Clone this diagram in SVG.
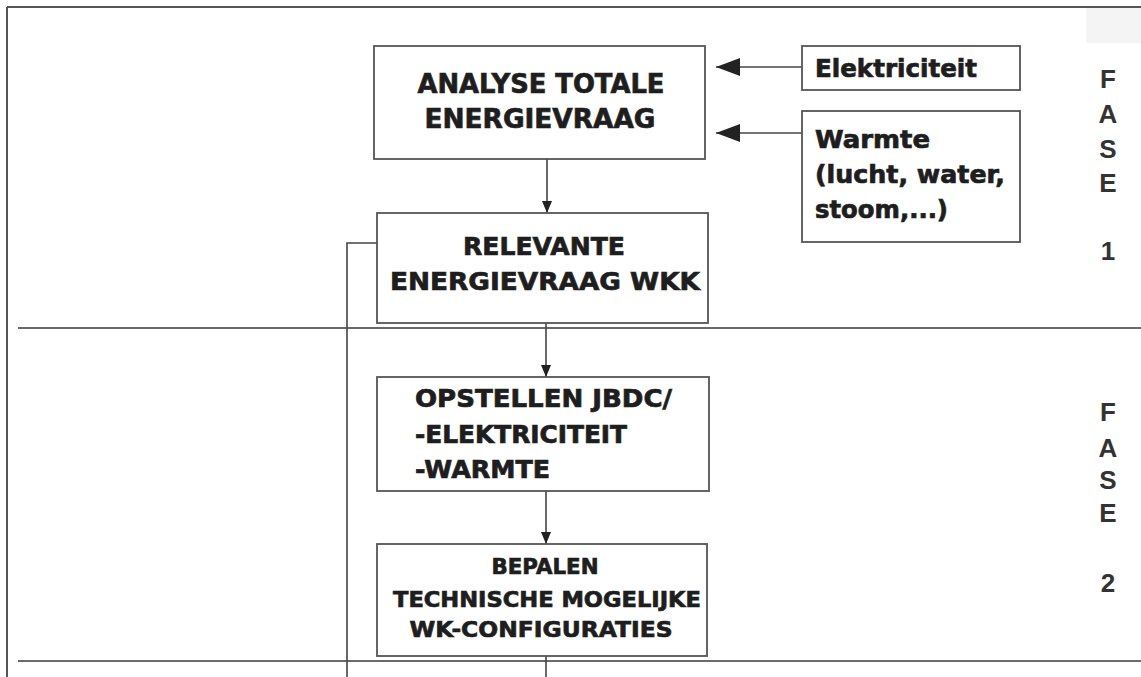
<svg xmlns="http://www.w3.org/2000/svg" width="1141" height="677" viewBox="0 0 1141 677">
<style>
.box{fill:#fff;stroke:#555;stroke-width:1.8}
.ln{stroke:#444;stroke-width:1.6;fill:none}
.sep{stroke:#6a6a6a;stroke-width:2.2;fill:none}
.t{font-family:"DejaVu Sans","Liberation Sans",sans-serif;font-weight:bold;fill:#1e1e1e;stroke:#1e1e1e;stroke-width:0.7}
.f{font-family:"Liberation Sans",Arial,sans-serif;font-weight:bold;fill:#333;font-size:26px;text-anchor:middle}
</style>
<defs>
<marker id="ad" markerWidth="12" markerHeight="10" refX="12" refY="5" orient="auto" markerUnits="userSpaceOnUse"><path d="M0,0 L12,5 L0,10 Z" fill="#222"/></marker>
<marker id="al" markerWidth="24" markerHeight="18" refX="24" refY="9" orient="auto" markerUnits="userSpaceOnUse"><path d="M0,0 L24,9 L0,18 Z" fill="#222"/></marker>
</defs>
<rect width="1141" height="677" fill="#fff"/>
<rect x="1086" y="8" width="55" height="35" fill="#f4f4f4"/>
<g id="frame">
<line x1="7" y1="7" x2="1141" y2="7" stroke="#555" stroke-width="2"/>
<line x1="7" y1="7" x2="7" y2="677" stroke="#555" stroke-width="2"/>
<line class="sep" x1="18" y1="328" x2="1141" y2="328"/>
<line class="sep" x1="18" y1="661" x2="1141" y2="661"/>
</g>
<g id="connectors">
<line class="ln" x1="547" y1="159" x2="547" y2="213" marker-end="url(#ad)"/>
<line class="ln" x1="546" y1="323" x2="546" y2="377" marker-end="url(#ad)"/>
<line class="ln" x1="546" y1="491" x2="546" y2="544" marker-end="url(#ad)"/>
<line class="ln" x1="546" y1="656" x2="546" y2="677"/>
<line class="ln" x1="802" y1="67" x2="716" y2="67" marker-end="url(#al)"/>
<line class="ln" x1="802" y1="133" x2="716" y2="133" marker-end="url(#al)"/>
<polyline class="ln" points="377,243 347,243 347,677"/>
</g>
<g id="analyse">
<rect class="box" x="374" y="46" width="331" height="113"/>
<text class="t" font-size="27" x="541" y="93" text-anchor="middle" textLength="247" lengthAdjust="spacingAndGlyphs">ANALYSE TOTALE</text>
<text class="t" font-size="27" x="540" y="128" text-anchor="middle" textLength="231" lengthAdjust="spacingAndGlyphs">ENERGIEVRAAG</text>
</g>
<g id="relevante">
<rect class="box" x="377" y="213" width="331" height="110"/>
<text class="t" font-size="25" x="544" y="255" text-anchor="middle" textLength="162" lengthAdjust="spacingAndGlyphs">RELEVANTE</text>
<text class="t" font-size="25" x="545" y="290" text-anchor="middle" textLength="310" lengthAdjust="spacingAndGlyphs">ENERGIEVRAAG WKK</text>
</g>
<g id="opstellen">
<rect class="box" x="377" y="377" width="332" height="114"/>
<text class="t" font-size="24" x="415" y="407" textLength="257" lengthAdjust="spacingAndGlyphs">OPSTELLEN JBDC/</text>
<text class="t" font-size="24" x="415" y="443" textLength="212" lengthAdjust="spacingAndGlyphs">-ELEKTRICITEIT</text>
<text class="t" font-size="24" x="415" y="478" textLength="135" lengthAdjust="spacingAndGlyphs">-WARMTE</text>
</g>
<g id="bepalen">
<rect class="box" x="377" y="544" width="330" height="112"/>
<text class="t" font-size="22" x="545" y="574" text-anchor="middle" textLength="107" lengthAdjust="spacingAndGlyphs">BEPALEN</text>
<text class="t" font-size="22" x="547" y="607" text-anchor="middle" textLength="308" lengthAdjust="spacingAndGlyphs">TECHNISCHE MOGELIJKE</text>
<text class="t" font-size="22" x="541" y="637" text-anchor="middle" textLength="263" lengthAdjust="spacingAndGlyphs">WK-CONFIGURATIES</text>
</g>
<g id="elektriciteit">
<rect class="box" x="802" y="46" width="218" height="44"/>
<text class="t" font-size="24" x="815" y="77" textLength="162" lengthAdjust="spacingAndGlyphs">Elektriciteit</text>
</g>
<g id="warmte">
<rect class="box" x="802" y="111" width="218" height="131"/>
<text class="t" font-size="24" x="815" y="148" textLength="115" lengthAdjust="spacingAndGlyphs">Warmte</text>
<text class="t" font-size="24" x="815" y="183" textLength="190" lengthAdjust="spacingAndGlyphs">(lucht, water,</text>
<text class="t" font-size="24" x="815" y="218" textLength="133" lengthAdjust="spacingAndGlyphs">stoom,...)</text>
</g>
<g id="fase1">
<text class="f" x="1108" y="88">F</text>
<text class="f" x="1108" y="123">A</text>
<text class="f" x="1108" y="158">S</text>
<text class="f" x="1108" y="192">E</text>
<text class="f" x="1108" y="260">1</text>
</g>
<g id="fase2">
<text class="f" x="1108" y="421">F</text>
<text class="f" x="1108" y="457">A</text>
<text class="f" x="1108" y="489">S</text>
<text class="f" x="1108" y="522">E</text>
<text class="f" x="1108" y="592">2</text>
</g>
</svg>
